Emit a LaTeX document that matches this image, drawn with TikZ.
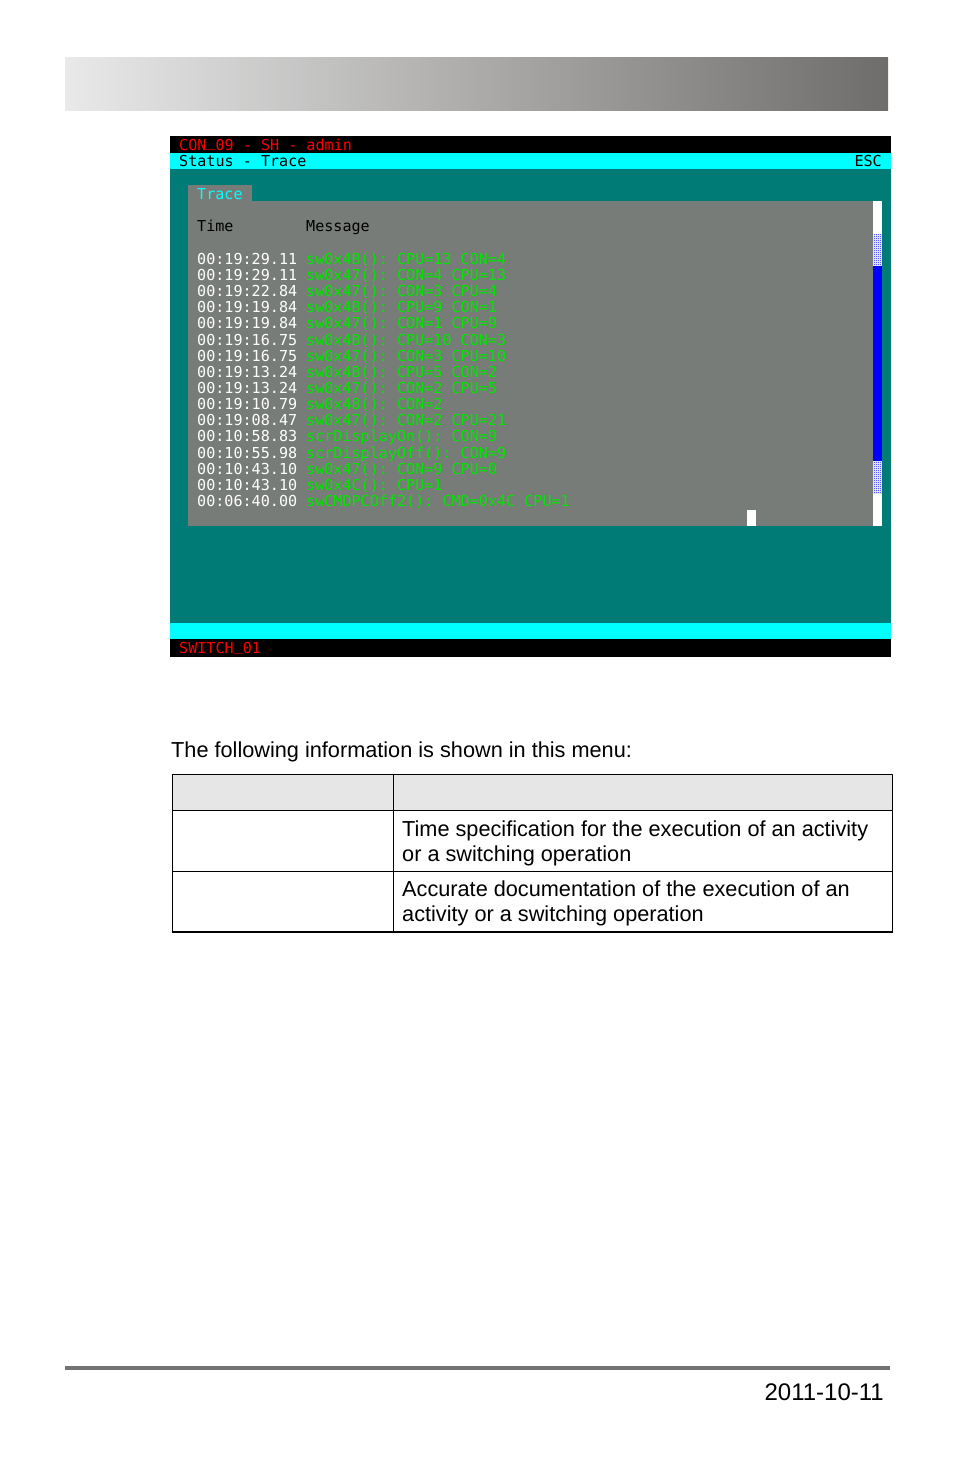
\documentclass[tikz,border=0pt]{standalone}
\usepackage{fontspec}
\setmainfont{Liberation Sans}
\newfontfamily\termfont{DejaVu Sans Mono}
\usetikzlibrary{patterns,positioning,calc}
\definecolor{termteal}{RGB}{0,123,118}
\definecolor{termcyan}{RGB}{0,255,255}
\definecolor{termgray}{RGB}{120,124,120}
\definecolor{termgreen}{RGB}{0,230,0}
\definecolor{termred}{RGB}{255,0,0}
\definecolor{termblue}{RGB}{0,0,255}
\definecolor{barlight}{RGB}{233,233,233}
\definecolor{barmid}{RGB}{184,184,183}
\definecolor{bardark}{RGB}{111,109,107}
\definecolor{rulegray}{RGB}{115,115,115}
\definecolor{headfill}{RGB}{230,230,230}
\pgfdeclarepatternformonly{finechecker}{\pgfpointorigin}{\pgfqpoint{2pt}{2pt}}{\pgfqpoint{2pt}{2pt}}{%
  \pgfpathrectangle{\pgfpointorigin}{\pgfqpoint{1pt}{1pt}}%
  \pgfpathrectangle{\pgfqpoint{1pt}{1pt}}{\pgfqpoint{1pt}{1pt}}%
  \pgfusepath{fill}}
\newcommand\termus{\raisebox{0.22em}{\char"5F}}
\tikzset{
  term/.style={font=\termfont\fontsize{15.1}{16}\selectfont\frenchspacing, inner sep=0pt, anchor=base west},
  body/.style={font=\fontsize{21.7}{25}\selectfont, inner sep=0pt, anchor=base west, align=left},
}

\begin{document}
\begin{tikzpicture}[x=1pt, y=-1pt, line join=round]
\useasboundingbox (0,0) rectangle (954,1475);
% page header bar
\shade[left color=barlight, middle color=barmid, right color=bardark] (65,57) rectangle (888,110);
% terminal screen
\fill[termteal] (170,136) rectangle (891,657);
\fill[black]    (170,136) rectangle (891,153);
\fill[termcyan] (170,153) rectangle (891,169);
\fill[termcyan] (170,623) rectangle (891,639);
\fill[black]    (170,639) rectangle (891,657);
\node[term, text=termred]  (title)  at (179,150.2) {CON\termus 09 - SH - admin};
\node[term, text=black]    (menu)   at (179,166.7) {Status - Trace};
\node[term, text=black, anchor=base east] (esc) at (882,166.7) {ESC};
\node[term, text=termred]  (switch) at (179,653.5) {SWITCH\termus 01};
% trace panel
\fill[termgray] (188,185) rectangle (252,201);
\fill[termgray] (188,201) rectangle (882,526);
\node[term, text=termcyan] (tab)  at (197,199.3) {Trace};
\node[term, text=black]    (time) at (197,231.7) {Time};
\node[term, text=black]    (msg)  at (306,231.7) {Message};
\foreach \t/\m [count=\i from 0] in {
  00:19:29.11/sw0x4B(): CPU=13 CON=4,
  00:19:29.11/sw0x47(): CON=4 CPU=13,
  00:19:22.84/sw0x47(): CON=3 CPU=4,
  00:19:19.84/sw0x4B(): CPU=9 CON=1,
  00:19:19.84/sw0x47(): CON=1 CPU=9,
  00:19:16.75/sw0x4B(): CPU=10 CON=3,
  00:19:16.75/sw0x47(): CON=3 CPU=10,
  00:19:13.24/sw0x4B(): CPU=5 CON=2,
  00:19:13.24/sw0x47(): CON=2 CPU=5,
  00:19:10.79/sw0x48(): CON=2,
  00:19:08.47/sw0x47(): CON=2 CPU=21,
  00:10:58.83/scrDisplayOn(): CON=9,
  00:10:55.98/scrDisplayOff(): CON=9,
  00:10:43.10/sw0x47(): CON=9 CPU=0,
  00:10:43.10/sw0x4C(): CPU=1,
  00:06:40.00/swCMDPCOff2(): CMD=0x4C CPU=1}{
  \node[term, text=white]     (t\i) at (197,{264.3+16.15*\i}) {\t};
  \node[term, text=termgreen] (m\i) at (306,{264.3+16.15*\i}) {\m};
}
% scroll bar and cursor
\fill[white] (873,201) rectangle (882,526);
\fill[pattern=finechecker, pattern color=termblue] (873,234) rectangle (882,266);
\fill[pattern=finechecker, pattern color=termblue] (873,461) rectangle (882,493);
\fill[termblue] (873,266) rectangle (882,461);
\fill[white] (747,510) rectangle (756,526);
% text and table
\node[body] (intro) at (171,757) {The following information is shown in this menu:};
\fill[headfill] (172,774) rectangle (892,810);
\draw[line width=1pt] (172,932) -- (172,774) -- (892,774) -- (892,932);
\draw[line width=1pt] (172,810) -- (892,810) (172,871) -- (892,871) (393,774) -- (393,932);
\draw[line width=2pt] (171.5,932) -- (892.5,932);
\node[body] (rowa) at (402,861) {Time specification for the execution of an activity\\or a switching operation};
\node[body] (rowb) at (402,921) {Accurate documentation of the execution of an\\activity or a switching operation};
% page footer
\fill[rulegray] (65,1366) rectangle (890,1370);
\node[body, font=\fontsize{24}{28}\selectfont, anchor=base east] (date) at (884,1400) {2011-10-11};
\end{tikzpicture}
\end{document}
